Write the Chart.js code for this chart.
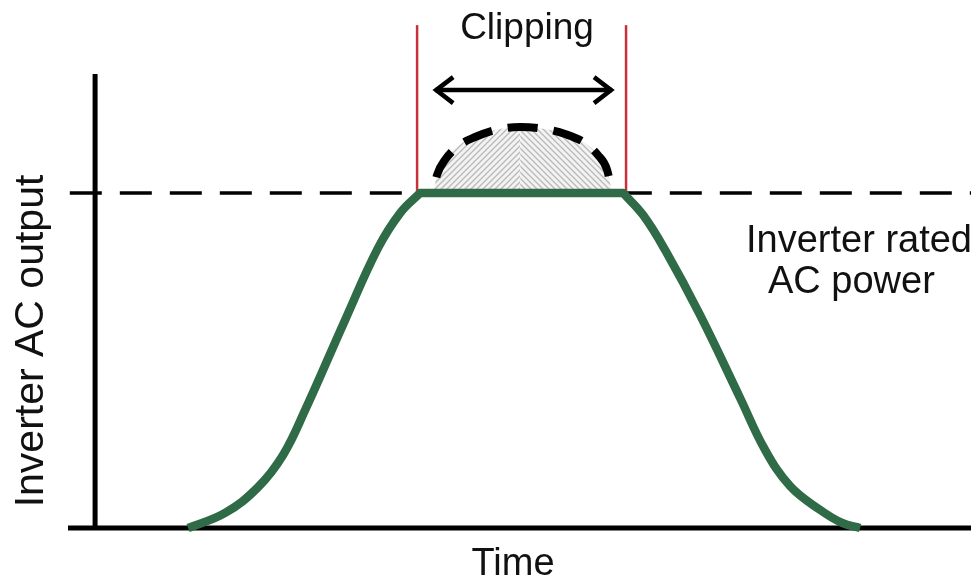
<!DOCTYPE html>
<html lang="en">
<head>
  <meta charset="UTF-8" />
  <title>Inverter clipping</title>
  <script src="https://cdn.jsdelivr.net/npm/chart.js"></script>
  <style>
    body { margin: 0; background: #fff; }
    #clipChart { display: block; }
  </style>
</head>
<body>
  <canvas id="clipChart" width="971" height="577"></canvas>
  <script>
    // Time axis in arbitrary units, power relative to inverter rating (1 = rated AC power).
    // The clipping start / end points are listed twice so the spline keeps a sharp corner there.
    const curveTime  = [10.30, 14.40, 18.05, 20.82, 23.26, 27.69, 31.34, 33.78, 35.99, 35.99,
                        58.47, 58.47, 60.69, 63.12, 66.99, 71.43, 74.20, 76.97, 80.29, 82.72, 84.72];
    const curvePower = [0, 0.045, 0.122, 0.218, 0.352, 0.621, 0.836, 0.940, 1.0, 1.0,
                        1.0, 1.0, 0.934, 0.830, 0.636, 0.388, 0.233, 0.125, 0.054, 0.015, 0];
    // power the array would have delivered above the rating (clipped part)
    const domeTime  = [37.43, 37.87, 38.76, 40.20, 42.08, 44.30, 47.07, 49.83, 52.05, 54.26, 55.70, 56.70, 57.25];
    const domePower = [1.0, 1.054, 1.099, 1.140, 1.167, 1.188, 1.197, 1.191, 1.176, 1.149, 1.113, 1.069, 1.0];
    const ratedPower = 1.0;
    const clipTimes = [35.66, 58.8];
    const clipTop = 1.501;
    const arrowTime = [37.66, 57.25];
    const arrowLevel = 1.307;
    const axisTop = 1.355;
    const xRange = [-3, 97];
    const yRange = [0, 1.576];

    const labels = {
      title: 'Clipping',
      x: 'Time',
      y: 'Inverter AC output',
      rated: ['Inverter rated', 'AC power']
    };

    const pts = (xs, ys) => xs.map((x, i) => ({ x: x, y: ys[i] }));
    const peak = domePower.indexOf(Math.max(...domePower));

    const ctx = document.getElementById('clipChart').getContext('2d');

    function hatch(dir) {
      const c = document.createElement('canvas');
      c.width = 6; c.height = 6;
      const g = c.getContext('2d');
      g.fillStyle = '#f3f3f3';
      g.fillRect(0, 0, 6, 6);
      g.strokeStyle = '#b8b8b8';
      g.lineWidth = 1.3;
      g.beginPath();
      if (dir > 0) {
        g.moveTo(-1, 7); g.lineTo(7, -1);
        g.moveTo(-1, 1); g.lineTo(1, -1);
        g.moveTo(5, 7); g.lineTo(7, 5);
      } else {
        g.moveTo(-1, -1); g.lineTo(7, 7);
        g.moveTo(5, -1); g.lineTo(7, 1);
        g.moveTo(-1, 5); g.lineTo(1, 7);
      }
      g.stroke();
      return ctx.createPattern(c, 'repeat');
    }

    const line = (data, color, width, extra) => Object.assign({
      data: data,
      borderColor: color,
      borderWidth: width,
      pointRadius: 0,
      fill: false,
      clip: false,
      tension: 0
    }, extra || {});

    // arrow heads + free text
    const annotate = {
      id: 'annotate',
      afterDatasetsDraw(chart) {
        const c = chart.ctx;
        const meta = chart.getDatasetMeta(chart.data.datasets.findIndex(d => d.label === 'arrow'));
        const a = meta.data[0], b = meta.data[1];
        c.save();
        c.strokeStyle = '#000';
        c.lineWidth = 4.5;
        c.lineCap = 'butt';
        c.lineJoin = 'miter';
        c.beginPath();
        c.moveTo(a.x + 18, a.y - 13); c.lineTo(a.x + 1, a.y); c.lineTo(a.x + 18, a.y + 13);
        c.moveTo(b.x - 18, b.y - 13); c.lineTo(b.x - 1, b.y); c.lineTo(b.x - 18, b.y + 13);
        c.stroke();

        c.fillStyle = '#111';
        c.font = '37px "Liberation Sans", Arial, sans-serif';
        c.textBaseline = 'alphabetic';
        c.textAlign = 'center';
        c.fillText(labels.title, 527, 39);
        c.font = '38px "Liberation Sans", Arial, sans-serif';
        c.fillText(labels.x, 513, 575);
        c.textAlign = 'left';
        c.fillText(labels.rated[0], 746, 252);
        c.fillText(labels.rated[1], 768, 293);

        c.translate(43, 341);
        c.rotate(-Math.PI / 2);
        c.textAlign = 'center';
        c.font = '41px "Liberation Sans", Arial, sans-serif';
        c.fillText(labels.y, 0, 0);
        c.restore();
      }
    };

    new Chart(ctx, {
      type: 'line',
      data: {
        datasets: [
          line(pts(curveTime, curvePower), '#2e6b46', 8.5, { label: 'output', tension: 0.4, borderJoinStyle: 'round', borderCapStyle: 'butt' }),
          line([{ x: xRange[0], y: 0 }, { x: xRange[1], y: 0 }], '#000', 5, { label: 'x axis' }),
          line([{ x: 0, y: 0 }, { x: 0, y: axisTop }], '#000', 5, { label: 'y axis' }),
          line([{ x: clipTimes[0], y: ratedPower }, { x: clipTimes[0], y: clipTop }], '#c8313a', 2.5, { label: 'clip start' }),
          line([{ x: clipTimes[1], y: ratedPower }, { x: clipTimes[1], y: clipTop }], '#c8313a', 2.5, { label: 'clip end' }),
          line(pts(domeTime, domePower), '#000', 8, { label: 'unclipped', cubicInterpolationMode: 'monotone', borderDash: [30, 16], borderDashOffset: 30, borderCapStyle: 'butt' }),
          line(pts(domeTime.slice(0, peak + 1), domePower.slice(0, peak + 1)), 'rgba(0,0,0,0)', 0,
               { label: 'clipped left', cubicInterpolationMode: 'monotone', fill: { value: ratedPower }, backgroundColor: hatch(1) }),
          line(pts(domeTime.slice(peak), domePower.slice(peak)), 'rgba(0,0,0,0)', 0,
               { label: 'clipped right', cubicInterpolationMode: 'monotone', fill: { value: ratedPower }, backgroundColor: hatch(-1) }),
          line([{ x: xRange[0] + 0.2, y: ratedPower }, { x: xRange[1], y: ratedPower }], '#000', 3.5, { label: 'rated', borderDash: [32, 18] }),
          line(pts(arrowTime, [arrowLevel, arrowLevel]), '#000', 4.5, { label: 'arrow' })
        ]
      },
      options: {
        responsive: false,
        animation: false,
        layout: { padding: { left: 68, right: 0, top: 0, bottom: 49 } },
        plugins: {
          legend: { display: false },
          tooltip: { enabled: false }
        },
        scales: {
          x: { type: 'linear', min: xRange[0], max: xRange[1], display: false },
          y: { type: 'linear', min: yRange[0], max: yRange[1], display: false }
        }
      },
      plugins: [annotate]
    });
  </script>
</body>
</html>
